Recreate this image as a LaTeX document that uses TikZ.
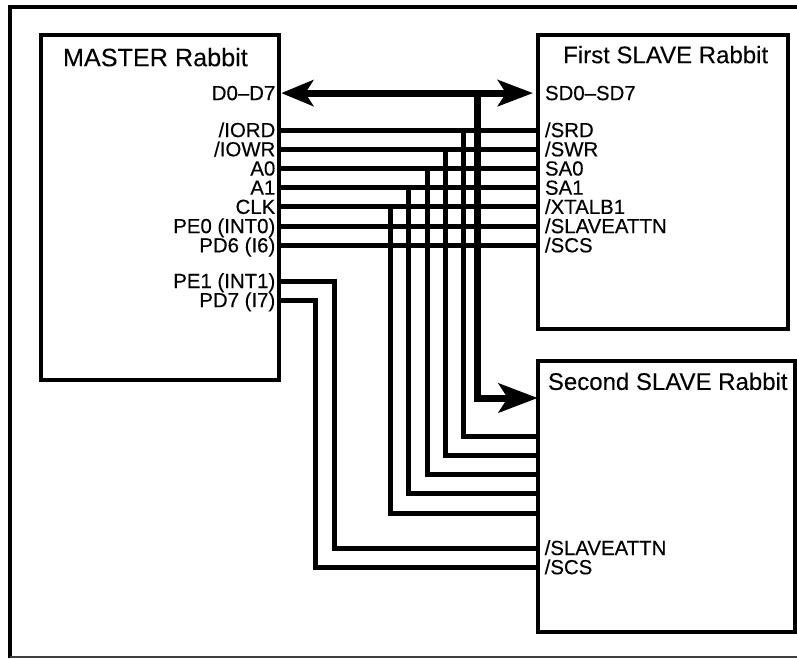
\documentclass[tikz,border=0pt]{standalone}
\usepackage{fontspec}
\setmainfont{Liberation Sans}
\newfontfamily\pinfont[FakeBold=0.25]{Liberation Sans}
\newfontfamily\titlefont[FakeBold=0.1]{Liberation Sans}
\usetikzlibrary{positioning,arrows.meta}

\begin{document}
\begin{tikzpicture}[
  board/.style={draw, line width=4pt, outer sep=0pt, anchor=north west},
  title/.style={inner sep=0pt, font=\titlefont\fontsize{24}{24}\selectfont, text height=17pt, text depth=0pt},
  pin/.style={inner sep=0pt, outer sep=0pt, minimum height=19.2pt, text height=14pt, text depth=0pt,
              font=\pinfont\fontsize{20.4}{20}\selectfont},
  nextl/.style={below=0pt of #1.south east, anchor=north east},
  nextr/.style={below=0pt of #1.south west, anchor=north west},
  wire/.style={line width=5pt},
  head/.tip={Stealth[length=32pt, width=26pt, inset=8pt]},
  headr/.tip={Stealth[length=35pt, width=26pt, inset=8pt]},
  headd/.tip={Stealth[length=39pt, width=29pt, inset=9pt]},
  bus/.style={line width=7pt},
]
\useasboundingbox (0,0) rectangle (797pt,-658pt);
\draw[line width=4pt] (797pt,-7pt) -- (10pt,-7pt) -- (10pt,-658pt);
\draw[line width=1.5pt, black!75] (10pt,-657.2pt) -- (797pt,-657.2pt);

\node[board, minimum width=238.5pt, minimum height=345pt] (master) at (40.8pt,-35pt) {};
\node[board, minimum width=250pt, minimum height=294pt] (first) at (538pt,-35pt) {};
\node[board, minimum width=257.3pt, minimum height=271pt] (second) at (537.7pt,-360.7pt) {};

\node[title, font=\titlefont\fontsize{25.2}{25}\selectfont, below right=14pt and 22pt of master.north west] {MASTER Rabbit};
\node[title, below right=11pt and 25pt of first.north west] {First SLAVE Rabbit};
\node[title, below right=12pt and 10pt of second.north west] {Second SLAVE Rabbit};

\node[pin, below left=48.5pt and 4pt of master.north east] (d0) {D0–D7};
\node[pin, below left=85.5pt and 4pt of master.north east] (iord) {/IORD};
\node[pin, nextl=iord] (iowr) {/IOWR};
\node[pin, nextl=iowr] (a0) {A0};
\node[pin, nextl=a0] (a1) {A1};
\node[pin, nextl=a1] (clk) {CLK};
\node[pin, nextl=clk] (pe0) {PE0 (INT0)};
\node[pin, nextl=pe0] (pd6) {PD6 (I6)};
\node[pin, below left=236.4pt and 4pt of master.north east] (pe1) {PE1 (INT1)};
\node[pin, nextl=pe1] (pd7) {PD7 (I7)};

\node[pin, below right=48.5pt and 7pt of first.north west] (sd0) {SD0–SD7};
\node[pin, below right=85.5pt and 7pt of first.north west] (srd) {/SRD};
\node[pin, nextr=srd] (swr) {/SWR};
\node[pin, nextr=swr] (sa0) {SA0};
\node[pin, nextr=sa0] (sa1) {SA1};
\node[pin, nextr=sa1] (xtal) {/XTALB1};
\node[pin, nextr=xtal] (attn) {/SLAVEATTN};
\node[pin, nextr=attn] (scs) {/SCS};

\node[pin, below right=177.7pt and 7pt of second.north west] (attn2) {/SLAVEATTN};
\node[pin, nextr=attn2] (scs2) {/SCS};

\coordinate[below=37.3pt of second.north west] (data2);
\coordinate[below=75.3pt of second.north west] (srd2);
\coordinate[below=94.3pt of second.north west] (swr2);
\coordinate[below=113.3pt of second.north west] (sa02);
\coordinate[below=132.3pt of second.north west] (sa12);
\coordinate[below=152.3pt of second.north west] (xtal2);

\coordinate (xdata) at (477.5pt,0);
\coordinate (xrd) at (463pt,0);
\coordinate (xwr) at (445.5pt,0);
\coordinate (xa0) at (427pt,0);
\coordinate (xa1) at (408pt,0);
\coordinate (xclk) at (390.5pt,0);
\coordinate (xint) at (334pt,0);
\coordinate (xcs) at (315pt,0);

\draw[wire] (master.east|-iord) -- (first.west|-srd);
\draw[wire] (master.east|-iowr) -- (first.west|-swr);
\draw[wire] (master.east|-a0) -- (first.west|-sa0);
\draw[wire] (master.east|-a1) -- (first.west|-sa1);
\draw[wire] (master.east|-clk) -- (first.west|-xtal);
\draw[wire] (master.east|-pe0) -- (first.west|-attn);
\draw[wire] (master.east|-pd6) -- (first.west|-scs);

\draw[wire] (xrd|-iord) |- (srd2);
\draw[wire] (xwr|-iowr) |- (swr2);
\draw[wire] (xa0|-a0) |- (sa02);
\draw[wire] (xa1|-a1) |- (sa12);
\draw[wire] (xclk|-clk) |- (xtal2);
\draw[wire] (master.east|-pe1) -- (xint|-pe1) |- (second.west|-attn2);
\draw[wire] (master.east|-pd7) -- (xcs|-pd7) |- (second.west|-scs2);

\draw[bus, {head}-{headr}, shorten <=2pt, shorten >=5pt] (master.east|-d0) -- (first.west|-sd0);
\draw[bus, -{headd}] (xdata|-d0) |- (data2);
\end{tikzpicture}
\end{document}
